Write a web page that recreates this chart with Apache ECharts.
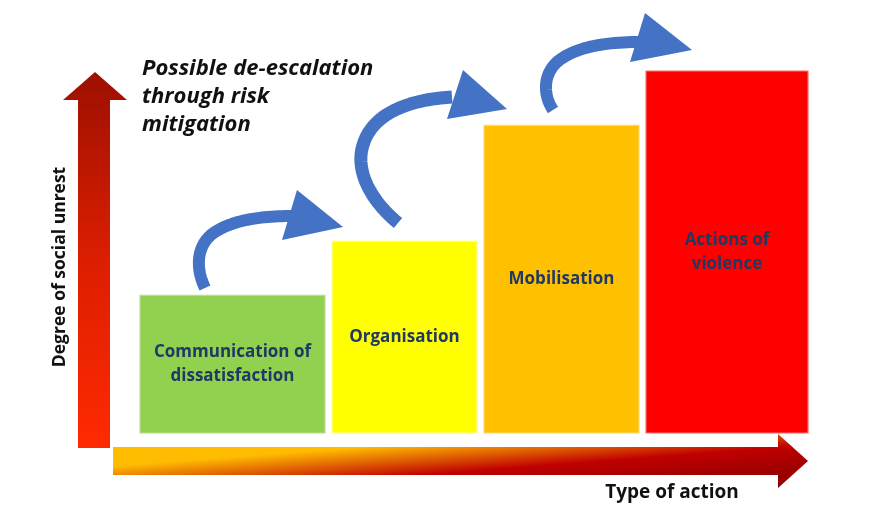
<!DOCTYPE html>
<html>
<head>
<meta charset="utf-8">
<script src="https://cdn.jsdelivr.net/npm/echarts@6/dist/echarts.min.js"></script>
<style>html,body{margin:0;padding:0;background:#fff;}#main{width:869px;height:523px;}</style>
</head>
<body>
<div id="main"></div>
<script>
// ---- data ----
const categories = ['Communication of\ndissatisfaction', 'Organisation', 'Mobilisation', 'Actions of\nviolence'];
const spanStart = [0, 192, 344, 506];   // extent of each step along "type of action"
const spanEnd = [185, 337, 499, 668];
const levels = [38, 53, 85, 100];       // degree of social unrest
const axisTitleY = 'Degree of social unrest';
const axisTitleX = 'Type of action';
const noteText = 'Possible de-escalation\nthrough risk\nmitigation';

// ---- styles ----
const barColors = ['#92d050', '#ffff00', '#ffc000', '#ff0000'];
const barEdges = ['#b6e08e', '#ffff9a', '#ffd870', '#ff7070'];
const blue = '#4472c4';
const FONT = '"Open Sans"';

const chart = echarts.init(document.getElementById('main'));

function renderItem(params, api) {
  const i = api.value(3);
  const tl = api.coord([api.value(0), api.value(2)]);
  const br = api.coord([api.value(1), 0]);
  return {
    type: 'rect',
    shape: { x: tl[0], y: tl[1], width: br[0] - tl[0], height: br[1] - tl[1] },
    style: { fill: barColors[i], stroke: barEdges[i], lineWidth: 1.2 },
    textContent: {
      style: {
        text: categories[i], fill: '#1f3864',
        font: 'bold 17px ' + FONT, align: 'center', verticalAlign: 'middle', lineHeight: 24
      }
    },
    textConfig: { position: 'inside' }
  };
}

// decorative curved arrows: cubic segments sampled into one smooth polyline
function sampleCubic(s, out) {
  for (let k = (out.length ? 1 : 0); k <= 24; k++) {
    const t = k / 24, u = 1 - t;
    out.push([
      u * u * u * s[0] + 3 * u * u * t * s[2] + 3 * u * t * t * s[4] + t * t * t * s[6],
      u * u * u * s[1] + 3 * u * u * t * s[3] + 3 * u * t * t * s[5] + t * t * t * s[7]
    ]);
  }
  return out;
}
function curvedArrow(segs, head, w) {
  const pts = [];
  segs.forEach(s => sampleCubic(s, pts));
  return [
    { type: 'polyline', shape: { points: pts }, style: { fill: null, stroke: blue, lineWidth: w, lineCap: 'butt', lineJoin: 'round' }, z: 10 },
    { type: 'polygon', shape: { points: head }, style: { fill: blue }, z: 10 }
  ];
}

const graphics = [
  // vertical axis arrow
  {
    type: 'polygon',
    shape: { points: [[95, 72], [127, 100], [110, 100], [110, 448], [78, 448], [78, 100], [63, 100]] },
    style: {
      fill: { type: 'linear', x: 0, y: 0, x2: 0, y2: 1, colorStops: [
        { offset: 0, color: '#9c1000' }, { offset: 0.5, color: '#dc1e00' }, { offset: 1, color: '#ff2a00' }] }
    }
  },
  // horizontal axis arrow
  {
    type: 'polygon',
    shape: { points: [[113, 447], [778, 447], [778, 434], [808, 461], [778, 488], [778, 475], [113, 475]] },
    style: {
      fill: { type: 'linear', global: true, x: 113, y: 434, x2: 121.3, y2: 541.4, colorStops: [
        { offset: 0, color: '#ffc000' }, { offset: 0.3, color: '#ffbb00' }, { offset: 0.45, color: '#e06000' },
        { offset: 0.6, color: '#c00000' }, { offset: 0.8, color: '#a00000' }, { offset: 1, color: '#8c0000' }] }
    }
  },
  {
    type: 'text', x: 60, y: 267, rotation: Math.PI / 2,
    style: { text: axisTitleY, font: 'bold 17.5px ' + FONT, fill: '#111', align: 'center', verticalAlign: 'middle' }
  },
  {
    type: 'text', x: 672, y: 493,
    style: { text: axisTitleX, font: 'bold 19px ' + FONT, fill: '#111', align: 'center', verticalAlign: 'middle' }
  },
  {
    type: 'text', x: 142, y: 55,
    style: { text: noteText, font: 'italic bold 22px ' + FONT, fill: '#111', align: 'left', verticalAlign: 'top', lineHeight: 28 }
  }
].concat(
  curvedArrow([[205, 288, 196, 270, 195, 245, 215, 232], [215, 232, 235, 219, 265, 216, 292, 216]], [[297, 190], [343, 227], [282, 240]], 12),
  curvedArrow([[398, 223, 370, 200, 355, 170, 363, 145], [363, 145, 372, 115, 405, 100, 452, 97]], [[463, 70], [507, 109], [447, 119]], 13),
  curvedArrow([[553, 110, 543, 95, 543, 75, 557, 62], [557, 62, 575, 47, 605, 42, 640, 42]], [[645, 13], [692, 50], [630, 62]], 12)
);

chart.setOption({
  animation: false,
  grid: { left: 140, right: 61, top: 71, bottom: 90 },
  xAxis: { type: 'value', min: 0, max: 668, show: false },
  yAxis: { type: 'value', min: 0, max: 100, show: false },
  series: [{
    type: 'custom',
    renderItem: renderItem,
    data: categories.map((c, i) => [spanStart[i], spanEnd[i], levels[i], i]),
    encode: { x: [0, 1], y: 2 }
  }],
  graphic: graphics
});
</script>
</body>
</html>
